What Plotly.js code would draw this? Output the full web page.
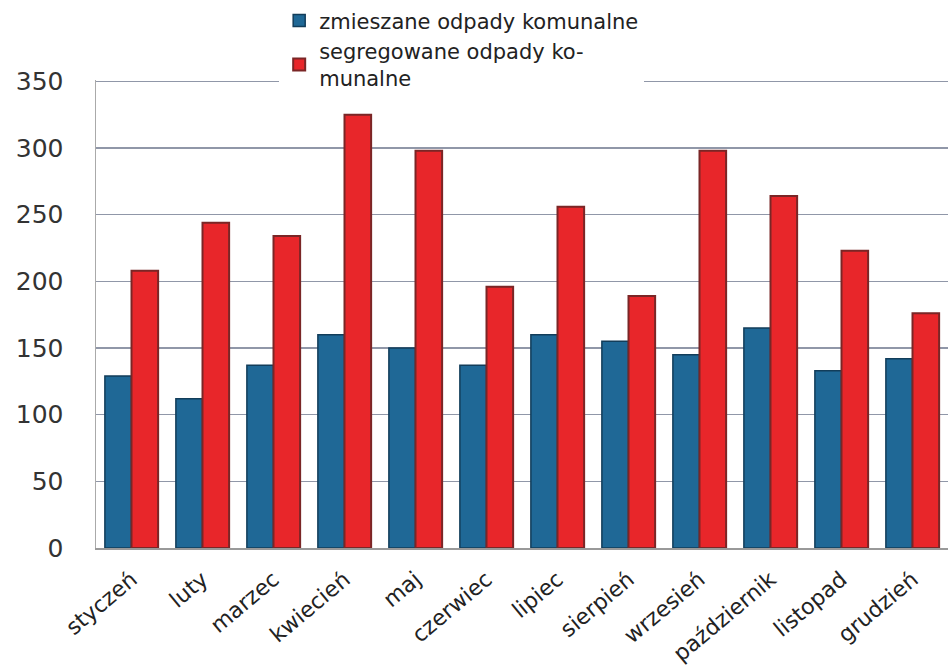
<!DOCTYPE html>
<html>
<head>
<meta charset="utf-8">
<script src="https://cdn.plot.ly/plotly-3.0.1.min.js"></script>
<style>html,body{margin:0;padding:0;background:#fff;}#chart{width:948px;height:672px;}</style>
</head>
<body>
<div id="chart"></div>
<script>
const months = ["styczeń","luty","marzec","kwiecień","maj","czerwiec","lipiec","sierpień","wrzesień","październik","listopad","grudzień"];
const mixedWaste = [129,112,137,160,150,137,160,155,145,165,133,142];
const segregatedWaste = [208,244,234,325,298,196,256,189,298,264,223,176];
const seriesNames = ["zmieszane odpady komunalne","segregowane odpady ko-<br>munalne"];
const yTicks = [0,50,100,150,200,250,300,350];

const traces = [
  {type:"bar", name:seriesNames[0], x:months, y:mixedWaste,
   marker:{color:"#1f6896", line:{color:"#123d5a", width:1.5}}},
  {type:"bar", name:seriesNames[1], x:months, y:segregatedWaste,
   marker:{color:"#e8262a", line:{color:"#7a2626", width:2}}}
];

const layout = {
  width:948, height:672,
  margin:{l:96, r:0, t:80, b:124},
  paper_bgcolor:"#fff", plot_bgcolor:"#fff",
  font:{family:"DejaVu Sans, Verdana, sans-serif", color:"#2a2a2a"},
  barmode:"group", bargap:0.25, bargroupgap:0.0,
  showlegend:true,
  legend:{x:0.215, y:1.17, xanchor:"left", yanchor:"top", bgcolor:"#fff",
          font:{size:21, color:"#222"}, itemwidth:30, tracegroupgap:4, traceorder:"normal"},
  xaxis:{type:"category", tickangle:-40, tickfont:{size:22, color:"#222"},
         showline:true, linecolor:"#999", linewidth:2, ticks:"", showgrid:false,
         ticklabelstandoff:8},
  yaxis:{range:[0,351], tickvals:yTicks, ticktext:yTicks.map(String),
         tickfont:{size:25, color:"#333"}, showgrid:true, gridcolor:"#9097a8", gridwidth:1.5,
         showline:true, linecolor:"#aaa", linewidth:1.5, ticks:"", zeroline:false, ticklen:0,
         ticklabelstandoff:26}
};

Plotly.newPlot("chart", traces, layout, {displayModeBar:false, staticPlot:true});
</script>
</body>
</html>
